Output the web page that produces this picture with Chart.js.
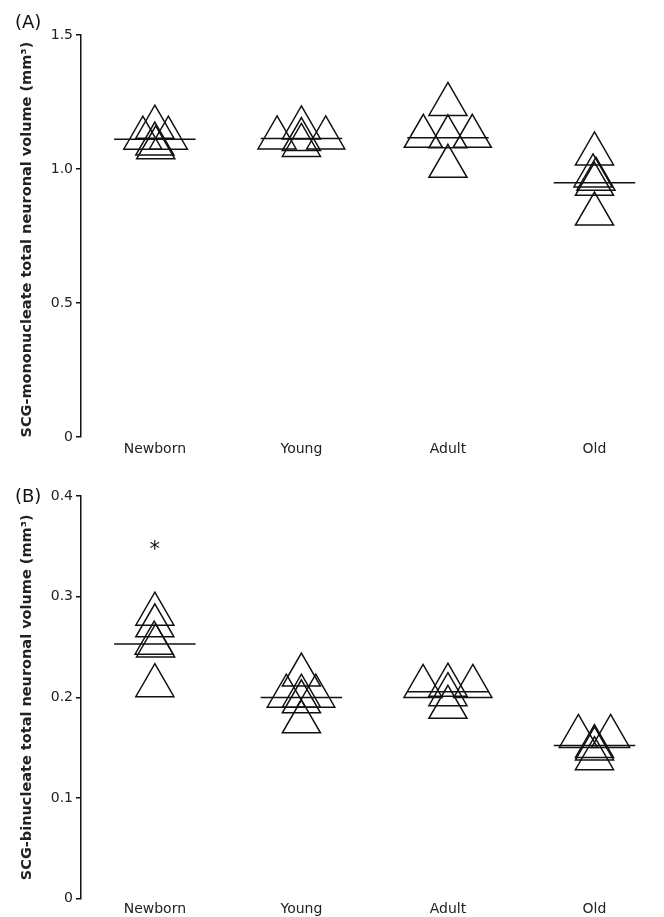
<!DOCTYPE html>
<html>
<head>
<meta charset="utf-8">
<script src="https://cdn.jsdelivr.net/npm/chart.js@4.4.1/dist/chart.umd.min.js"></script>
<style>
  body { margin: 0; background: #fff; overflow: hidden; }
  #wrap { position: relative; width: 664px; height: 917px; overflow: hidden; }
  #wrap canvas { position: absolute; left: 0; }
  .panel { position: absolute; left: 15px; font: 18px "DejaVu Sans", sans-serif; line-height: 18px; color: #111; }
</style>
</head>
<body>
<div id="wrap">
  <canvas id="chartA" width="664" height="461" style="top:0"></canvas>
  <canvas id="chartB" width="664" height="464" style="top:458px"></canvas>
  <div class="panel" style="top:13px">(A)</div>
  <div class="panel" style="top:487px">(B)</div>
</div>
<script>
// groups on the x axis
const categories = ['Newborn', 'Young', 'Adult', 'Old'];

// (A) SCG-mononucleate total neuronal volume, one value per animal
const monoNewborn = [1.156, 1.115, 1.115, 1.093, 1.079];
const monoYoung = [1.153, 1.116, 1.116, 1.110, 1.088];
const monoAdult = [1.241, 1.122, 1.120, 1.122, 1.010];
const monoOld = [1.056, 0.974, 0.962, 0.943, 0.832];
const monoMeans = [1.111, 1.114, 1.117, 0.949];
// horizontal jitter of each symbol, in category units
const monoJitter = [
    [0, -0.082, 0.092, 0, 0.006],
    [0, -0.166, 0.166, 0, 0],
    [0, -0.168, 0, 0.166, 0],
    [0, -0.01, 0.01, 0, 0]
];

// (B) SCG-binucleate total neuronal volume
const biNewborn = [0.2825, 0.271, 0.2537, 0.251, 0.2115];
const biYoung = [0.222, 0.201, 0.201, 0.201, 0.1955, 0.1756];
const biAdult = [0.212, 0.2107, 0.2107, 0.2025, 0.190];
const biOld = [0.161, 0.161, 0.151, 0.1486, 0.139];
const biMeans = [0.253, 0.1998, 0.2055, 0.152];
const biJitter = [
    [0, 0, -0.005, 0.005, 0],
    [0, -0.103, 0, 0.098, 0, 0],
    [0, -0.17, 0.17, 0, 0],
    [-0.11, 0.11, 0, 0, 0]
];
// significance mark above Newborn in (B)
const biStars = [{ x: 1, y: 0.35 }];

const yTicksA = [0, 0.5, 1.0, 1.5];
const yTicksB = [0, 0.1, 0.2, 0.3, 0.4];

Chart.defaults.font.family = '"DejaVu Sans", sans-serif';
Chart.defaults.color = '#111';

function points(vals, jit, cat) {
    return vals.map((v, i) => ({ x: cat + jit[i], y: v }));
}

// little plugin: writes the '*' marks at their data position
const starPlugin = {
    id: 'stars',
    afterDatasetsDraw(chart, args, opts) {
        if (!opts.items) return;
        const ctx = chart.ctx;
        ctx.save();
        ctx.fillStyle = '#111';
        ctx.font = '21px "DejaVu Sans", sans-serif';
        ctx.textAlign = 'center';
        ctx.textBaseline = 'middle';
        opts.items.forEach(p => {
            ctx.fillText('*', chart.scales.x.getPixelForValue(p.x), chart.scales.y.getPixelForValue(p.y) + 4);
        });
        ctx.restore();
    }
};

function makeChart(id, groups, jitter, means, yTicks, title, padTop, xHeight, labelPad, stars) {
    var datasets = [];
    groups.forEach((vals, g) => {
        datasets.push({
            type: 'scatter',
            data: points(vals, jitter[g], g + 1),
            pointStyle: 'triangle',
            pointRadius: 22,
            backgroundColor: 'rgba(0,0,0,0)',
            borderColor: '#111',
            borderWidth: 1.5
        });
    });
    means.forEach((m, g) => {
        datasets.push({
            type: 'line',
            data: [{ x: g + 1 - 0.278, y: m }, { x: g + 1 + 0.278, y: m }],
            borderColor: '#111',
            borderWidth: 1.5,
            pointRadius: 0
        });
    });

    return new Chart(document.getElementById(id), {
        type: 'scatter',
        data: { datasets: datasets },
        plugins: [starPlugin],
        options: {
            responsive: false,
            animation: false,
            layout: { padding: { top: padTop, left: 0, right: 0, bottom: 0 } },
            plugins: {
                legend: { display: false },
                tooltip: { enabled: false },
                stars: { items: stars }
            },
            scales: {
                x: {
                    type: 'linear',
                    min: 0.496,
                    max: 4.314,
                    afterBuildTicks: s => { s.ticks = [1, 2, 3, 4].map(v => ({ value: v })); },
                    afterFit: s => { s.height = xHeight; },
                    grid: { display: false, drawTicks: false, tickLength: 0 },
                    border: { display: false },
                    ticks: {
                        padding: labelPad,
                        font: { size: 14 },
                        color: '#222',
                        callback: v => categories[v - 1]
                    }
                },
                y: {
                    min: 0,
                    max: yTicks[yTicks.length - 1],
                    afterBuildTicks: s => { s.ticks = yTicks.map(v => ({ value: v })); },
                    afterFit: s => { s.width = 81; },
                    grid: { drawOnChartArea: false, tickLength: 5, color: '#111', lineWidth: 1.5 },
                    border: { color: '#111', width: 1.5 },
                    ticks: {
                        padding: 3,
                        font: { size: 14 },
                        color: '#222',
                        callback: v => v === 0 ? '0' : v.toFixed(1)
                    },
                    title: {
                        display: true,
                        text: title,
                        font: { size: 14.5, weight: 'bold' },
                        color: '#222',
                        padding: { top: 19, bottom: 0 }
                    }
                }
            }
        }
    });
}

makeChart('chartA', [monoNewborn, monoYoung, monoAdult, monoOld], monoJitter, monoMeans,
    yTicksA, 'SCG-mononucleate total neuronal volume (mm³)\u2002', 35, 24, 4, null);
makeChart('chartB', [biNewborn, biYoung, biAdult, biOld], biJitter, biMeans,
    yTicksB, 'SCG-binucleate total neuronal volume (mm³)', 38, 23, 2, biStars);
</script>
</body>
</html>
